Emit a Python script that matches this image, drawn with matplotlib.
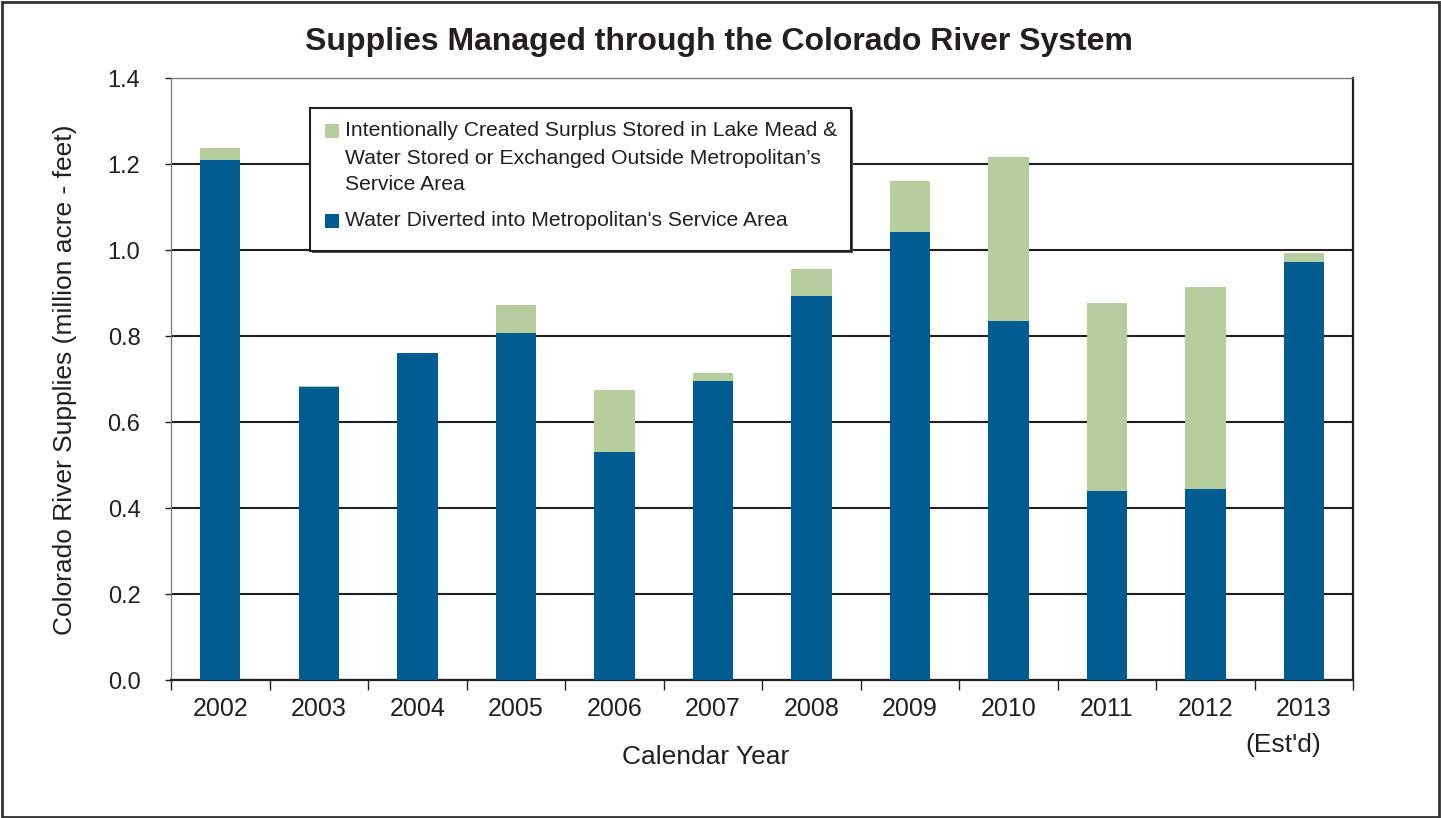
import matplotlib

matplotlib.use("Agg")

import matplotlib.pyplot as plt
import numpy as np
from matplotlib.patches import Rectangle

plt.rcParams["font.family"] = ["Liberation Sans", "DejaVu Sans"]

years = ["2002", "2003", "2004", "2005", "2006", "2007",
         "2008", "2009", "2010", "2011", "2012", "2013"]

# million acre-feet
diverted = [1.210, 0.681, 0.760, 0.808, 0.530, 0.695,
            0.894, 1.043, 0.836, 0.439, 0.444, 0.971]
stored = [0.028, 0.002, 0.000, 0.065, 0.144, 0.020,
          0.063, 0.118, 0.381, 0.437, 0.471, 0.023]

legend_labels = [
    ["Intentionally Created Surplus Stored in Lake Mead &",
     "Water Stored or Exchanged Outside Metropolitan\u2019s",
     "Service Area"],
    ["Water Diverted into Metropolitan's Service Area"],
]

BLUE = "#005C91"
GREEN = "#B6CE9D"
INK = "#231F20"

W, H = 1441, 818


def fx(x):
    return x / W


def fy(y):
    return 1 - y / H


fig = plt.figure(figsize=(W / 100, H / 100), dpi=100)
ax = fig.add_axes([0.1187, 0.1687, 0.8203, 0.7359])

x = np.arange(len(years))
ax.bar(x, diverted, width=0.41, color=BLUE, zorder=3)
ax.bar(x, stored, width=0.41, bottom=diverted, color=GREEN, zorder=3)

ax.set_xlim(-0.5, len(years) - 0.5)
ax.set_ylim(0, 1.4)
yticks = np.arange(0, 1.41, 0.2)
ax.set_yticks(yticks)
ax.set_yticklabels([f"{v:.1f}" for v in yticks])
ax.yaxis.grid(True, color=INK, linewidth=1.5, zorder=1)
ax.set_axisbelow(True)

ax.set_xticks(x)
ax.set_xticklabels(years)
ax.set_xticks(np.arange(-0.5, len(years)), minor=True)
ax.tick_params(axis="x", which="major", length=0, pad=12, labelsize=18,
               labelcolor=INK)
ax.tick_params(axis="x", which="minor", length=7, width=1.0, color=INK)
ax.tick_params(axis="y", length=4, width=1.0, color=INK, pad=18,
               labelsize=17, labelcolor=INK)

for side in ("left", "top"):
    ax.spines[side].set_color("#7A7A7A")
    ax.spines[side].set_linewidth(0.9)
for side in ("right", "bottom"):
    ax.spines[side].set_color(INK)
    ax.spines[side].set_linewidth(1.6)

fig.text(fx(65), fy(380), "Colorado River Supplies (million acre - feet)",
         fontsize=19, rotation=90, ha="center", va="center", color=INK)
fig.text(fx(706), fy(757), "Calendar Year", fontsize=19, ha="center",
         va="center", color=INK)
fig.text(fx(1283), fy(745), "(Est'd)", fontsize=19, ha="center",
         va="center", color=INK)

fig.text(fx(719), fy(42), "Supplies Managed through the Colorado River System",
         fontsize=23, fontweight="bold", ha="center", va="center", color=INK)

# legend box drawn on the figure so the swatches sit beside the first line
fig.patches.append(Rectangle((fx(312), fy(253)), fx(541), 143 / H,
                             transform=fig.transFigure, facecolor="#555555",
                             edgecolor="none", zorder=4))
fig.patches.append(Rectangle((fx(310), fy(251)), fx(541), 143 / H,
                             transform=fig.transFigure, facecolor="white",
                             edgecolor=INK, linewidth=1.5, zorder=5))

swatch = 14
entry_rows = [[131, 158, 184], [221]]
for colour, rows, lines in zip([GREEN, BLUE], entry_rows, legend_labels):
    top = rows[0] - swatch / 2
    fig.patches.append(Rectangle((fx(325), fy(top + swatch)), fx(swatch),
                                 swatch / H, transform=fig.transFigure,
                                 facecolor=colour, edgecolor="none",
                                 zorder=6))
    for row, line in zip(rows, lines):
        fig.text(fx(345), fy(row), line, fontsize=15.2, ha="left",
                 va="center", color=INK, zorder=7)

# thin frame around the whole figure
fig.patches.append(Rectangle((0.0015, 0.0015), 0.997, 0.996,
                             transform=fig.transFigure, fill=False,
                             edgecolor="#333333", linewidth=2.0))

fig.savefig("out.png", dpi=100)
plt.close(fig)
